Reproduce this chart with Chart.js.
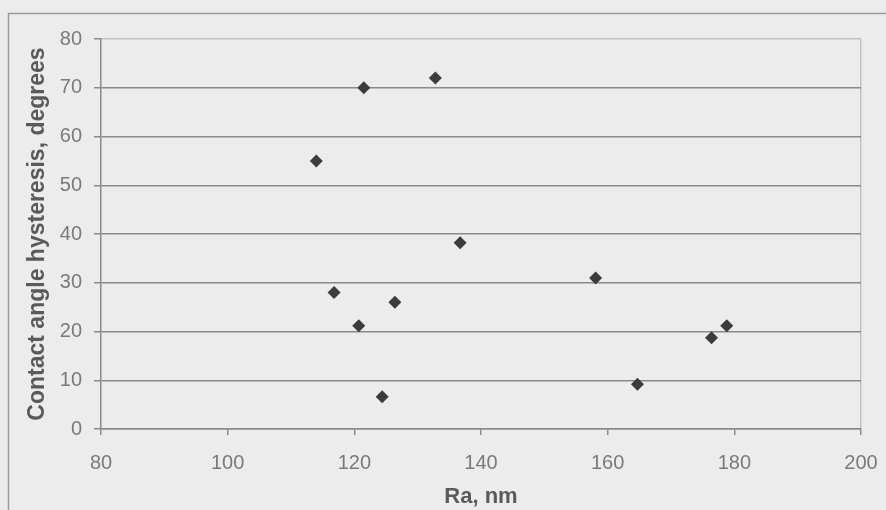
<!DOCTYPE html>
<html>
<head>
<meta charset="utf-8">
<script src="https://cdn.jsdelivr.net/npm/chart.js@4/dist/chart.umd.min.js"></script>
<style>
  html, body { margin: 0; padding: 0; background: #ececec; }
  #wrap { width: 886px; height: 510px; }
</style>
</head>
<body>
<div id="wrap"><canvas id="chart-hysteresis" width="886" height="510"></canvas></div>
<script>
// Ra (nm) vs contact angle hysteresis (degrees)
const roughnessRa = [114.0, 116.8, 120.7, 121.5, 124.4, 126.4, 132.8, 136.7, 158.1, 164.7, 176.4, 178.8];
const hysteresis  = [55.0, 28.0, 21.2, 70.0, 6.6, 26.0, 72.0, 38.2, 31.0, 9.2, 18.7, 21.2];

const xTitle = "Ra, nm";
const yTitle = "Contact angle hysteresis, degrees";

const points = roughnessRa.map((x, i) => ({ x, y: hysteresis[i] }));

const gridColor = "#8a8a8a";
const edgeColor = "#c2c2c2";
const fontFamily = "'Liberation Sans', Arial, sans-serif";

// thin frame around the whole figure (only left and top edges are in view)
const frame = {
  id: "frame",
  beforeDraw(chart) {
    const c = chart.ctx;
    c.save();
    c.fillStyle = "#ececec";
    c.fillRect(0, 0, chart.width, chart.height);
    c.strokeStyle = "#9a9a9a";
    c.lineWidth = 1.5;
    c.beginPath();
    c.moveTo(8.5, chart.height);
    c.lineTo(8.5, 13.5);
    c.lineTo(chart.width, 13.5);
    c.stroke();
    c.restore();
  },
};

new Chart(document.getElementById("chart-hysteresis"), {
  type: "scatter",
  data: {
    datasets: [
      {
        data: points,
        pointStyle: "rectRot",
        pointRadius: 6.5,
        pointHoverRadius: 6.5,
        backgroundColor: "#3c3c3c",
        borderColor: "#3c3c3c",
        borderWidth: 0,
      },
    ],
  },
  options: {
    responsive: false,
    animation: false,
    events: [],
    layout: { padding: { top: 39, right: 25, bottom: 0, left: 0 } },
    plugins: { legend: { display: false }, tooltip: { enabled: false } },
    scales: {
      x: {
        type: "linear",
        min: 80,
        max: 200,
        afterFit: (s) => {
          s.height = 81;
          s.paddingLeft = 0;
          s.paddingRight = 0;
        },
        ticks: {
          stepSize: 20,
          color: "#7a7a7a",
          padding: 16,
          font: { family: fontFamily, size: 20 },
        },
        grid: {
          drawOnChartArea: true,
          color: (ctx) => (ctx.tick && ctx.tick.value === 200 ? edgeColor : "rgba(0,0,0,0)"),
          tickColor: gridColor,
          tickLength: 6,
          lineWidth: 1.5,
        },
        border: { color: gridColor, width: 1.5 },
        title: {
          display: true,
          text: xTitle,
          color: "#5a5a5a",
          padding: { top: 0, bottom: 0 },
          font: { family: fontFamily, size: 22, weight: "bold" },
        },
      },
      y: {
        type: "linear",
        min: 0,
        max: 80,
        afterFit: (s) => {
          s.width = 101;
          s.paddingTop = 0;
          s.paddingBottom = 0;
        },
        ticks: {
          stepSize: 10,
          color: "#7a7a7a",
          padding: 12,
          font: { family: fontFamily, size: 20 },
        },
        grid: {
          color: (ctx) => (ctx.tick && ctx.tick.value === 80 ? edgeColor : gridColor),
          tickColor: gridColor,
          tickLength: 7,
          lineWidth: 1.5,
        },
        border: { color: gridColor, width: 1.5 },
        title: {
          display: true,
          text: yTitle,
          color: "#5a5a5a",
          padding: { top: 24, bottom: 0 },
          font: { family: fontFamily, size: 23, weight: "bold" },
        },
      },
    },
  },
  plugins: [frame],
});
</script>
</body>
</html>
